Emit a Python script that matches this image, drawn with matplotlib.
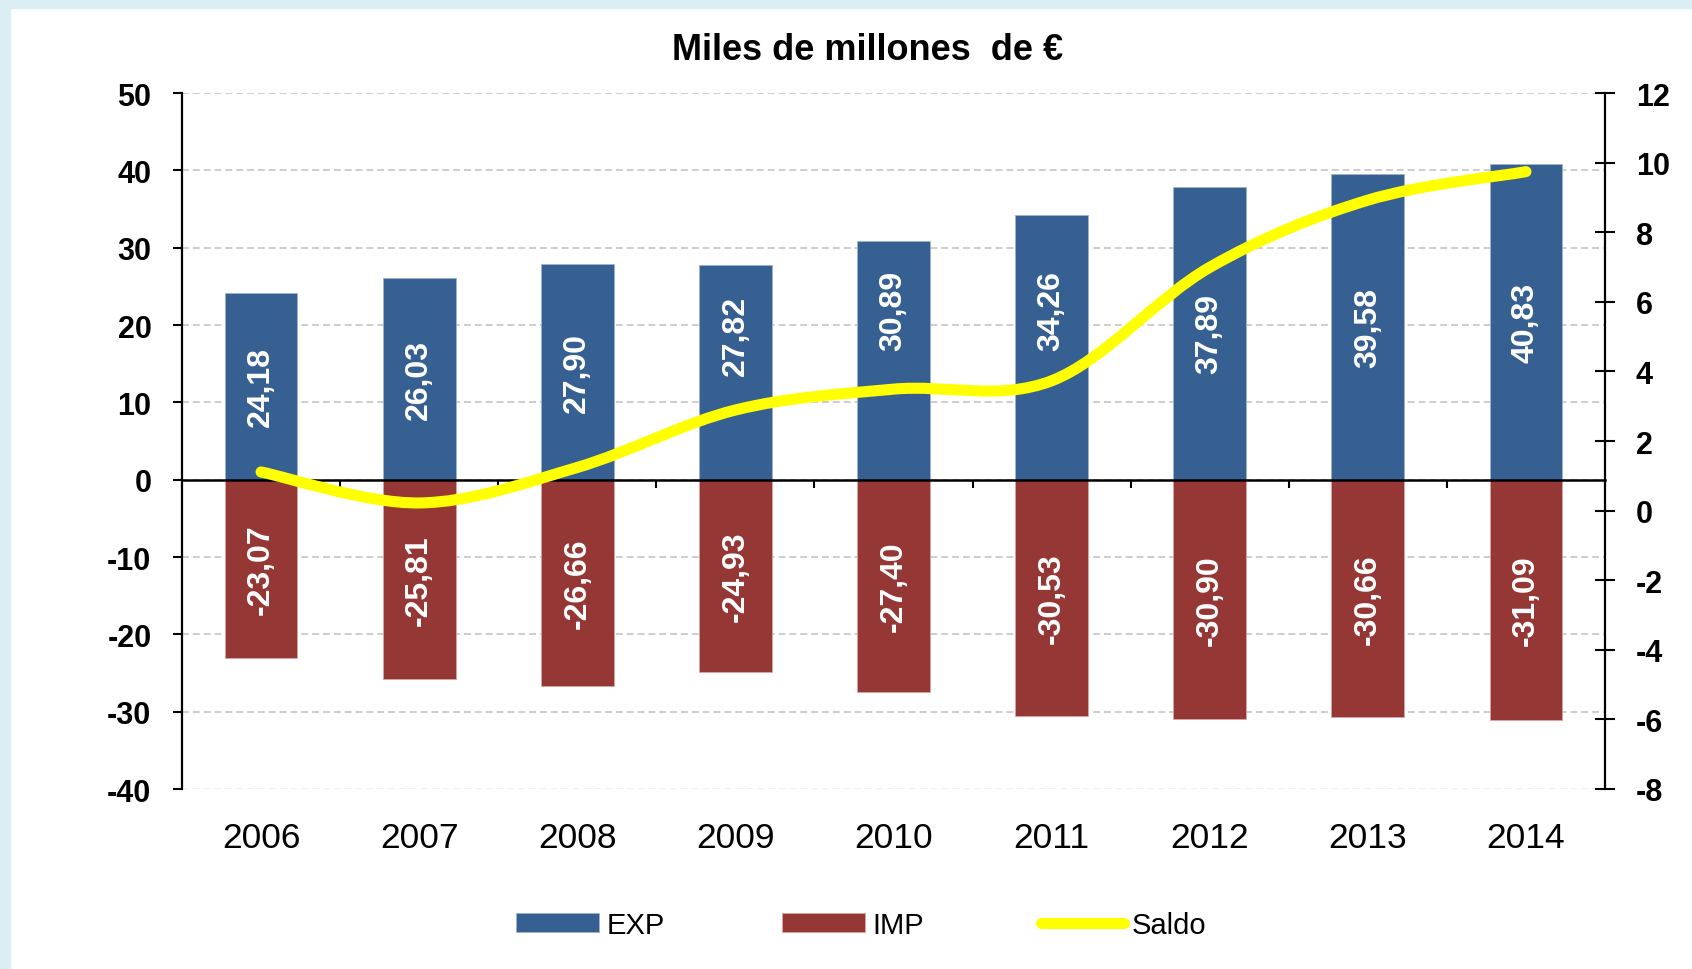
# -*- coding: utf-8 -*-

import matplotlib.pyplot as plt
from matplotlib.lines import Line2D
from matplotlib.patches import PathPatch, Rectangle
from matplotlib.path import Path

plt.rcParams['font.family'] = ['Liberation Sans', 'DejaVu Sans']

years = ['2006', '2007', '2008', '2009', '2010', '2011', '2012', '2013', '2014']
exp_vals = [24.18, 26.03, 27.90, 27.82, 30.89, 34.26, 37.89, 39.58, 40.83]
imp_vals = [-23.07, -25.81, -26.66, -24.93, -27.40, -30.53, -30.90, -30.66, -31.09]
saldo = [1.11, 0.22, 1.24, 2.89, 3.49, 3.73, 6.99, 8.92, 9.74]

left_ticks = [50, 40, 30, 20, 10, 0, -10, -20, -30, -40]
right_ticks = [12, 10, 8, 6, 4, 2, 0, -2, -4, -6, -8]

# labels of these bars were moved up in the original so the line does not hide them
exp_label_shift = [0, 0, 0, 27, 36, 27, 0, 0, 0]

c_exp = '#376092'
c_imp = '#953735'
c_saldo = '#FFFF00'

fig = plt.figure(figsize=(16.92, 9.70), dpi=100)
fig.patch.set_facecolor('white')
# light blue frame on top and left
fig.add_artist(Rectangle((0, 1 - 9 / 970), 1, 9 / 970, transform=fig.transFigure,
                         color='#DAEEF3', zorder=0))
fig.add_artist(Rectangle((0, 0), 10 / 1692, 1, transform=fig.transFigure,
                         color='#DAEEF3', zorder=0))

ax = fig.add_axes([182 / 1692, 1 - 790 / 970, (1605 - 182) / 1692, (790 - 94) / 970])
ax.set_facecolor('none')
x = list(range(len(years)))

b_exp = ax.bar(x, exp_vals, width=0.46, color=c_exp, edgecolor='#9DB3CF',
               linewidth=0.6, zorder=2, label='EXP')
b_imp = ax.bar(x, imp_vals, width=0.46, color=c_imp, edgecolor='#D9A5A4',
               linewidth=0.6, zorder=2, label='IMP')

fmt = lambda v: ('%.2f' % v).replace('.', ',')
anns = ax.bar_label(b_exp, labels=[fmt(v) for v in exp_vals], label_type='center',
                    rotation=90, color='white', fontsize=23, fontweight='bold')
for a, s in zip(anns, exp_label_shift):
    a.xyann = (0, s)
ax.bar_label(b_imp, labels=[fmt(v) for v in imp_vals], label_type='center',
             rotation=90, color='white', fontsize=23, fontweight='bold')

ax.set_xlim(-0.5, len(years) - 0.5)
ax.set_ylim(left_ticks[-1], left_ticks[0])
ax.set_yticks(left_ticks)
ax.set_yticklabels([str(t) for t in left_ticks], fontsize=22, fontweight='bold')
ax.tick_params(axis='y', direction='out', length=6.5, width=1.5, pad=15.5)

for t in left_ticks:
    ax.axhline(t, color='#C0C0C0' if t != left_ticks[-1] else '#EBEBEB',
               lw=1.1, linestyle=(0, (4.5, 2.6)), zorder=0.5)

ax.set_xticks(x)
ax.set_xticklabels(years, fontsize=25.5)
ax.tick_params(axis='x', length=0, pad=23)

for s in ['top', 'right', 'bottom']:
    ax.spines[s].set_visible(False)
ax.spines['left'].set_linewidth(1.6)

# category axis drawn on the zero line
zero_pos = (0 - left_ticks[-1]) / (left_ticks[0] - left_ticks[-1])
secax = ax.secondary_xaxis(zero_pos)
secax.set_xticks([i + 0.5 for i in x[:-1]])
secax.set_xticklabels([])
secax.tick_params(axis='x', direction='out', length=6, width=1.5)
secax.spines['bottom'].set_linewidth(1.8)
secax.spines['top'].set_linewidth(1.8)
secax.set_zorder(3)

# right axis with the balance
ax2 = ax.twinx()
ax2.set_ylim(right_ticks[-1], right_ticks[0])
ax2.set_yticks(right_ticks)
ax2.set_yticklabels([str(t) for t in right_ticks], fontsize=22, fontweight='bold')
ax2.tick_params(axis='y', direction='inout', length=14.4, width=1.5, pad=15)
for s in ['top', 'left', 'bottom']:
    ax2.spines[s].set_visible(False)
ax2.spines['right'].set_linewidth(1.6)

# smoothed line (bezier through the points, like excel)
pts = list(zip(x, saldo))
n = len(pts)
verts = [pts[0]]
codes = [Path.MOVETO]
for i in range(n - 1):
    p0 = pts[i - 1] if i > 0 else pts[i]
    p1 = pts[i]
    p2 = pts[i + 1]
    p3 = pts[i + 2] if i + 2 < n else pts[i + 1]
    c1 = (p1[0] + (p2[0] - p0[0]) / 6, p1[1] + (p2[1] - p0[1]) / 6)
    c2 = (p2[0] - (p3[0] - p1[0]) / 6, p2[1] - (p3[1] - p1[1]) / 6)
    verts += [c1, c2, p2]
    codes += [Path.CURVE4] * 3
ax2.add_patch(PathPatch(Path(verts, codes), fill=False, edgecolor=c_saldo, lw=8,
                        capstyle='round', joinstyle='round', zorder=4))

fig.text(868 / 1692, 1 - 60 / 970, u'Miles de millones  de €', ha='center',
         va='baseline', fontsize=26, fontweight='bold')

saldo_handle = Line2D([], [], color=c_saldo, lw=8, solid_capstyle='round')
fig.legend([b_exp, b_imp, saldo_handle], ['EXP', 'IMP', 'Saldo'], loc='center',
           bbox_to_anchor=(861 / 1692, 1 - 926 / 970), ncol=3, frameon=False,
           fontsize=21, handlelength=2.85, handleheight=0.62, handletextpad=0.27,
           columnspacing=4.0, borderpad=0)

fig.savefig('out.png', dpi=100)
